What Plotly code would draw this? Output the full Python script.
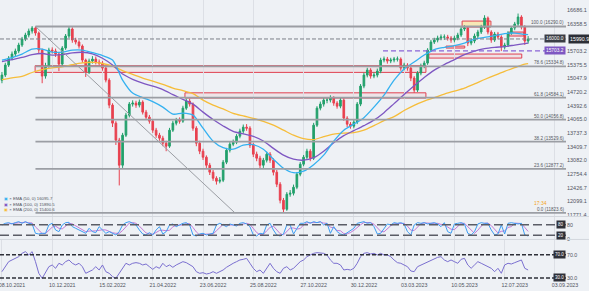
import plotly.graph_objects as go

# ---------------- data ----------------
dates = ["08.10.2021", "10.12.2021", "15.02.2022", "21.04.2022", "23.06.2022", "25.08.2022",
         "27.10.2022", "30.12.2022", "03.03.2023", "10.05.2023", "12.07.2023", "03.09.2023"]
date_idx = [3 + 15 * i for i in range(len(dates))]

opens = [15000, 15125, 15365, 15533, 15629, 15701, 15845, 15989, 16085, 16181,
         16253, 16133, 15725, 15101, 15341, 15725, 15701, 15629, 15389, 15773,
         16061, 16229, 15965, 15917, 15821, 15485, 15197, 15461, 15509, 15437,
         15413, 15293, 15005, 14405, 13973, 13565, 12965, 13685, 14165, 14429,
         14453, 14405, 14477, 14237, 14117, 14021, 13805, 13685, 13613, 13493,
         13421, 13805, 13973, 14045, 14021, 14333, 14501, 14429, 13853, 13493,
         13301, 13157, 12965, 12797, 12653, 12581, 12605, 13037, 13325, 13469,
         13517, 13661, 13781, 13877, 13853, 13445, 13229, 13133, 12965, 13085,
         13229, 13085, 12797, 12509, 12125, 11909, 12269, 12293, 12437, 12749,
         12989, 13157, 13301, 13133, 13925, 14333, 14429, 14525, 14525, 14573,
         14453, 14381, 14525, 14093, 13949, 13901, 13997, 14429, 14861, 15125,
         15245, 15101, 15125, 15221, 15485, 15509, 15461, 15485, 15509, 15509,
         15293, 15365, 15293, 15053, 14765, 15173, 15341, 15413, 15725, 15917,
         15965, 16013, 16037, 16037, 16013, 15965, 16013, 16085, 16229, 16253,
         15893, 15941, 16061, 16157, 16277, 16493, 16157, 15965, 16109, 16037,
         15797, 15845, 16133, 16253, 16349, 16517, 16277, 15941]
highs = [15200, 15420, 15580, 15690, 15760, 15900, 16040, 16140, 16240, 16300,
         16290, 16170, 15760, 15420, 15780, 15790, 15760, 15680, 15820, 16110,
         16290, 16270, 16020, 15960, 15860, 15520, 15520, 15580, 15570, 15500,
         15460, 15340, 15050, 14450, 14020, 13620, 13740, 14220, 14480, 14520,
         14510, 14540, 14520, 14290, 14170, 14070, 13860, 13740, 13670, 13550,
         13860, 14030, 14100, 14110, 14390, 14560, 14560, 14470, 13900, 13550,
         13360, 13200, 13020, 12850, 12700, 12680, 13090, 13380, 13520, 13580,
         13710, 13840, 13940, 13950, 13900, 13500, 13290, 13190, 13140, 13290,
         13280, 13130, 12850, 12560, 12180, 12320, 12370, 12500, 12800, 13040,
         13210, 13360, 13350, 13980, 14380, 14490, 14580, 14600, 14640, 14620,
         14500, 14590, 14570, 14140, 14000, 14060, 14480, 14910, 15180, 15300,
         15290, 15190, 15280, 15540, 15570, 15560, 15540, 15560, 15570, 15550,
         15420, 15410, 15340, 15100, 15220, 15400, 15470, 15770, 15970, 16020,
         16070, 16100, 16100, 16090, 16060, 16070, 16140, 16280, 16320, 16290,
         16000, 16120, 16210, 16330, 16560, 16530, 16200, 16160, 16160, 16080,
         15900, 16180, 16300, 16400, 16600, 16560, 16320, 16060]
lows = [14930, 15080, 15320, 15480, 15570, 15650, 15800, 15940, 16030, 16120,
        16070, 15650, 14930, 15040, 15300, 15640, 15560, 15220, 15350, 15730,
        16010, 15900, 15860, 15760, 15420, 15080, 15150, 15400, 15380, 15350,
        15230, 14950, 14330, 13880, 13450, 12480, 12900, 13640, 14110, 14370,
        14340, 14350, 14180, 14050, 13960, 13740, 13620, 13550, 13420, 13300,
        13380, 13760, 13920, 13960, 13980, 14290, 14370, 13790, 13420, 13230,
        13090, 12900, 12730, 12590, 12500, 12530, 12560, 12990, 13270, 13420,
        13470, 13610, 13720, 13790, 13380, 13160, 13060, 12890, 12900, 13030,
        13020, 12720, 12440, 12050, 11830, 11870, 12210, 12240, 12390, 12700,
        12940, 13100, 13060, 13090, 13880, 14280, 14370, 14450, 14470, 14390,
        14320, 14330, 14030, 13880, 13840, 13850, 13950, 14380, 14810, 15070,
        15040, 15050, 15070, 15170, 15430, 15400, 15410, 15430, 15450, 15230,
        15240, 15230, 14980, 14700, 14720, 15120, 15290, 15370, 15680, 15870,
        15910, 15960, 15970, 15950, 15900, 15910, 15960, 16040, 16180, 15820,
        15840, 15890, 16010, 16110, 16230, 16100, 15900, 15920, 15980, 15700,
        15740, 15800, 16090, 16200, 16300, 16220, 15850, 15880]
closes = [15125, 15365, 15533, 15629, 15701, 15845, 15989, 16085, 16181, 16253,
          16133, 15725, 15101, 15341, 15725, 15701, 15629, 15389, 15773, 16061,
          16229, 15965, 15917, 15821, 15485, 15197, 15461, 15509, 15437, 15413,
          15293, 15005, 14405, 13973, 13565, 12965, 13685, 14165, 14429, 14453,
          14405, 14477, 14237, 14117, 14021, 13805, 13685, 13613, 13493, 13421,
          13805, 13973, 14045, 14021, 14333, 14501, 14429, 13853, 13493, 13301,
          13157, 12965, 12797, 12653, 12581, 12605, 13037, 13325, 13469, 13517,
          13661, 13781, 13877, 13853, 13445, 13229, 13133, 12965, 13085, 13229,
          13085, 12797, 12509, 12125, 11909, 12269, 12293, 12437, 12749, 12989,
          13157, 13301, 13133, 13925, 14333, 14429, 14525, 14525, 14573, 14453,
          14381, 14525, 14093, 13949, 13901, 13997, 14429, 14861, 15125, 15245,
          15101, 15125, 15221, 15485, 15509, 15461, 15485, 15509, 15509, 15293,
          15365, 15293, 15053, 14765, 15173, 15341, 15413, 15725, 15917, 15965,
          16013, 16037, 16037, 16013, 15965, 16013, 16085, 16229, 16253, 15893,
          15941, 16061, 16157, 16277, 16493, 16157, 15965, 16109, 16037, 15797,
          15845, 16133, 16253, 16349, 16517, 16277, 15941, 15991]
bar_idx = list(range(len(closes)))

ema_idx = list(range(0, 157, 3)) + [157]
ema50 = [15485, 15545, 15629, 15749, 15749, 15677, 15677, 15725, 15725, 15665,
         15593, 15485, 15005, 14693, 14585, 14489, 14357, 14189, 14213, 14165,
         13853, 13541, 13385, 13349, 13445, 13457, 13349, 13109, 12893, 12785,
         12821, 12977, 13205, 13541, 13805, 13949, 14105, 14357, 14645, 15005,
         15269, 15437, 15605, 15737, 15790, 15831, 15893, 15989, 16030, 16071,
         16119, 16133, 16099, 16096]
ema100 = [15447, 15495, 15547, 15615, 15643, 15605, 15615, 15657, 15672, 15634,
          15528, 15365, 15149, 15024, 14933, 14861, 14777, 14657, 14544, 14429,
          14237, 14059, 13906, 13776, 13714, 13656, 13546, 13368, 13205, 13109,
          13085, 13145, 13301, 13505, 13673, 13793, 13913, 14045, 14225, 14441,
          14659, 14868, 15067, 15243, 15377, 15497, 15617, 15701, 15759, 15790,
          15809, 15845, 15881, 15891]
ema200 = [15015, 15058, 15096, 15187, 15255, 15298, 15322, 15375, 15418, 15432,
          15403, 15341, 15231, 15144, 15055, 14983, 14904, 14815, 14751, 14679,
          14525, 14405, 14314, 14208, 14146, 14088, 14016, 13925, 13805, 13685,
          13601, 13579, 13649, 13709, 13733, 13745, 13805, 13913, 14033, 14129,
          14275, 14400, 14501, 14583, 14669, 14741, 14813, 14912, 15019, 15120,
          15216, 15303, 15389, 15401]

stoch_k = [78.3, 87.8, 91.5, 84, 91.5, 97.2, 87.8, 97.2, 87.8, 84,
           31.2, 27.4, 31.2, 31.2, 78.3, 87.8, 50, 40.6, 78.3, 91.5,
           93.4, 68.9, 59.5, 50, 40.6, 31.2, 59.5, 40.6, 34.9, 68.9,
           50, 31.2, 40.6, 31.2, 21.8, 40.6, 78.3, 91.5, 97.2, 87.8,
           78.3, 50, 27.4, 21.8, 34.9, 21.8, 50, 68.9, 27.4, 40.6,
           78.3, 84, 68.9, 78.3, 87.8, 91.5, 78.3, 21.8, 16.1, 27.4,
           31.2, 21.8, 27.4, 31.2, 78.3, 87.8, 78.3, 68.9, 84, 78.3,
           72.7, 87.8, 91.5, 84, 68.9, 21.8, 16.1, 31.2, 27.4, 78.3,
           87.8, 50, 21.8, 16.1, 27.4, 78.3, 78.3, 27.4, 59.5, 87.8,
           87.8, 97.2, 87.8, 97.2, 91.5, 97.2, 78.3, 87.8, 31.2, 68.9,
           40.6, 27.4, 21.8, 34.9, 50, 59.5, 87.8, 91.5, 97.2, 87.8,
           91.5, 68.9, 27.4, 31.2, 59.5, 84, 78.3, 91.5, 87.8, 91.5,
           84, 40.6, 21.8, 78.3, 91.5, 87.8, 91.5, 84, 87.8, 91.5,
           84, 68.9, 91.5, 40.6, 31.2, 84, 87.8, 91.5, 84, 31.2,
           21.8, 40.6, 84, 91.5, 87.8, 87.8, 50, 21.8, 27.4, 78.3,
           27.4, 87.8, 91.5, 87.8, 84, 87.8, 21.8, 16.1]
stoch_d = [80, 83, 85.9, 87.8, 89, 90.9, 92.2, 94.1, 90.9, 89.7,
           67.7, 47.5, 29.9, 29.9, 46.9, 65.8, 72, 59.5, 56.3, 70.1,
           87.7, 84.6, 73.9, 59.5, 50, 40.6, 43.8, 43.8, 45, 48.1,
           51.3, 50, 40.6, 34.3, 31.2, 31.2, 46.9, 70.1, 89, 92.2,
           87.8, 72, 51.9, 33.1, 28, 26.2, 35.6, 46.9, 48.8, 45.6,
           48.8, 67.6, 77.1, 77.1, 78.3, 85.9, 85.9, 63.9, 38.7, 21.8,
           24.9, 26.8, 26.8, 26.8, 45.6, 65.8, 81.5, 78.3, 77.1, 77.1,
           78.3, 79.6, 84, 87.8, 81.5, 58.2, 35.6, 23, 24.9, 45.6,
           64.5, 72, 53.2, 29.3, 21.8, 40.6, 61.3, 61.3, 55.1, 58.2,
           78.4, 90.9, 90.9, 94.1, 92.2, 95.3, 89, 87.8, 65.8, 62.6,
           46.9, 45.6, 29.9, 28, 35.6, 48.1, 65.8, 79.6, 92.2, 92.2,
           92.2, 82.7, 62.6, 42.5, 39.4, 58.2, 73.9, 84.6, 85.9, 90.3,
           87.8, 72, 48.8, 46.9, 63.9, 85.9, 90.3, 87.8, 87.8, 87.8,
           87.8, 81.5, 81.5, 67, 54.4, 52, 67.7, 87.8, 87.8, 69,
           45.7, 31.2, 48.8, 72, 87.8, 89, 75.2, 53.2, 33.1, 42.5,
           44.4, 64.5, 68.9, 89, 87.8, 86.5, 64.5, 41.9]
rsi = [40.8, 49.4, 58.0, 60.9, 63.7, 66.6, 72.3, 75.2, 69.5, 75.2,
       58.0, 38.0, 29.4, 40.8, 49.4, 52.3, 46.6, 55.2, 52.3, 58.0,
       60.9, 55.2, 52.3, 55.2, 49.4, 38.0, 40.8, 43.7, 49.4, 43.7,
       52.3, 40.8, 38.0, 32.3, 29.4, 38.0, 46.6, 55.2, 52.3, 55.2,
       56.3, 55.2, 52.3, 54.0, 49.4, 44.8, 49.4, 46.6, 55.2, 49.4,
       52.3, 48.3, 52.3, 55.2, 58.0, 56.3, 52.3, 49.4, 40.8, 38.0,
       39.1, 36.8, 38.0, 40.8, 38.0, 40.8, 43.7, 48.3, 52.3, 55.2,
       58.0, 60.9, 62.0, 63.7, 55.2, 46.6, 40.8, 43.7, 38.0, 46.6,
       55.2, 46.6, 40.8, 38.0, 46.6, 49.4, 43.7, 46.6, 52.3, 58.0,
       60.9, 66.6, 69.5, 72.3, 73.5, 73.5, 72.3, 69.5, 60.9, 55.2,
       55.2, 52.3, 43.7, 44.8, 43.7, 46.6, 55.2, 66.6, 72.3, 73.5,
       71.2, 72.3, 69.5, 72.3, 69.5, 69.5, 66.6, 60.9, 56.3, 55.2,
       52.3, 49.4, 42.0, 40.8, 49.4, 52.3, 55.2, 58.0, 60.9, 63.7,
       65.4, 66.6, 60.9, 58.0, 60.9, 58.0, 55.2, 62.0, 63.7, 52.3,
       46.6, 52.3, 58.0, 55.2, 52.3, 49.4, 46.6, 40.8, 46.6, 38.0,
       52.3, 55.2, 54.0, 56.3, 58.0, 60.9, 46.6, 43.7]

price_ticks = [11771.4, 12099.1, 12426.7, 12754.4, 13082.0, 13409.7, 13737.3, 14065.0,
               14392.6, 14720.2, 15047.9, 15375.5, 15703.2, 16358.5, 16686.1]

fib_levels = ["0.0", "23.6", "38.2", "50.0", "61.8", "78.6", "100.0"]
fib_prices = [11823.6, 12877.2, 13529.6, 14056.8, 14584.1, 15334.8, 16290.0]
fib_start_idx = 10
fib_end_idx = 69.5

last_price = 15990.9
line_price = 16000.0
alert_price = 15703.2
alert_start_idx = 113.7

zone_x0 = [9.9, 54.6, 137.3, 132.5, 127.4, 151.3]
zone_x1 = [126.5, 126.5, 145.9, 138.1, 155.1, 155.7]
zone_lo = [15190, 14575, 16277, 15773, 15533, 16061]
zone_hi = [15350, 14700, 16420, 15821, 15629, 16157]
zone_fill = ["rgba(242,54,69,0.07)", "rgba(242,54,69,0.07)", "rgba(255,224,130,0.55)",
             "rgba(242,54,69,0.22)", "rgba(242,54,69,0.08)", "rgba(242,54,69,0.22)"]

ema_labels = ["EMA (50, 0) 16095.7", "EMA (100, 0) 15890.5", "EMA (200, 0) 15400.6"]

# ---------------- style ----------------
BG = "#eef1f5"
GRID = "#dcdfe5"
FONT = "Liberation Sans, Arial, sans-serif"
TXT = "#50535e"
X0, X1 = -0.58, 168.3
GREEN, RED = "#22a06b", "#e8414f"

fig = go.Figure()

fig.add_trace(go.Candlestick(
    x=bar_idx, open=opens, high=highs, low=lows, close=closes,
    increasing=dict(line=dict(color=GREEN, width=1), fillcolor=GREEN),
    decreasing=dict(line=dict(color=RED, width=1), fillcolor=RED),
    whiskerwidth=0, xaxis="x", yaxis="y", showlegend=False, hoverinfo="skip"))

for vals, col in [(ema200, "#f6bd3a"), (ema100, "#7e57c2"), (ema50, "#35b1f0")]:
    fig.add_trace(go.Scatter(x=ema_idx, y=vals, mode="lines",
                             line=dict(color=col, width=1.3, shape="spline", smoothing=0.8),
                             xaxis="x", yaxis="y", showlegend=False, hoverinfo="skip"))

fig.add_trace(go.Scatter(x=bar_idx, y=stoch_d, mode="lines",
                         line=dict(color="#c27ad6", width=1),
                         xaxis="x2", yaxis="y2", showlegend=False, hoverinfo="skip"))
fig.add_trace(go.Scatter(x=bar_idx, y=stoch_k, mode="lines",
                         line=dict(color="#3d9df3", width=1),
                         xaxis="x2", yaxis="y2", showlegend=False, hoverinfo="skip"))
fig.add_trace(go.Scatter(x=bar_idx, y=rsi, mode="lines",
                         line=dict(color="#7a6fd0", width=1),
                         xaxis="x3", yaxis="y3", showlegend=False, hoverinfo="skip"))

shapes = []
for a, b, lo, hi, fc in zip(zone_x0, zone_x1, zone_lo, zone_hi, zone_fill):
    shapes.append(dict(type="rect", xref="x", yref="y", x0=a, x1=b, y0=lo, y1=hi,
                       fillcolor=fc, line=dict(color="#e04050", width=1), layer="below"))
for p in fib_prices:
    shapes.append(dict(type="line", xref="x", yref="y", x0=fib_start_idx, x1=X1, y0=p, y1=p,
                       line=dict(color="#9b9ea4", width=1.8)))
shapes.append(dict(type="line", xref="x", yref="y", x0=fib_start_idx, x1=fib_end_idx,
                   y0=fib_prices[-1], y1=fib_prices[0], line=dict(color="#9b9ea4", width=1)))
shapes.append(dict(type="line", xref="x", yref="y", x0=X0, x1=X1, y0=last_price, y1=last_price,
                   line=dict(color="#7c7f88", width=1, dash="4px,2px")))
shapes.append(dict(type="line", xref="x", yref="y", x0=alert_start_idx, x1=X1, y0=alert_price,
                   y1=alert_price, line=dict(color="#8a64d6", width=1.2, dash="5px,3px")))
for v in (80, 20):
    shapes.append(dict(type="line", xref="x2", yref="y2", x0=X0, x1=X1, y0=v, y1=v,
                       line=dict(color="#5a5d66", width=1.6, dash="9px,4px")))
for v in (70, 30):
    shapes.append(dict(type="line", xref="x3", yref="y3", x0=X0, x1=X1, y0=v, y1=v,
                       line=dict(color="#2e3038", width=1.6, dash="4px,2px")))
for yy in (0.2295, 0.1478):
    shapes.append(dict(type="line", xref="paper", yref="paper", x0=0, x1=1.05, y0=yy, y1=yy,
                       line=dict(color="#d3d7dd", width=1)))

annotations = []
for lvl, p in zip(fib_levels, fib_prices):
    annotations.append(dict(xref="paper", yref="y", x=1, y=p, xanchor="right", yanchor="bottom",
                            text=f"{lvl} ({p:.1f})", showarrow=False, yshift=-1,
                            font=dict(size=4.6, color="#55585f", family=FONT)))
annotations.append(dict(xref="paper", yref="y", x=1, y=last_price, xanchor="right", yanchor="middle",
                        text=f"{line_price:.1f}", showarrow=False, bgcolor="#3a3d45",
                        font=dict(size=4.8, color="white", family=FONT), borderpad=1))
annotations.append(dict(xref="paper", yref="y", x=1, y=last_price, xanchor="left", yanchor="middle",
                        text=f"{last_price:.1f}", showarrow=False, bgcolor="#2b2e36", xshift=2,
                        font=dict(size=5.3, color="white", family=FONT), borderpad=1))
annotations.append(dict(xref="paper", yref="y", x=1, y=alert_price, xanchor="right", yanchor="middle",
                        text=f"{alert_price:.1f}", showarrow=False, bgcolor="#7e57c2",
                        font=dict(size=4.8, color="white", family=FONT), borderpad=1))
for v in (80, 20):
    annotations.append(dict(xref="paper", yref="y2", x=1, y=v, xanchor="right", yanchor="middle",
                            text=str(v), showarrow=False, bgcolor="#2e3038",
                            font=dict(size=4.5, color="white", family=FONT), borderpad=1))
for v in (70, 30):
    annotations.append(dict(xref="paper", yref="y3", x=1, y=v, xanchor="right", yanchor="middle",
                            text=f"{v:.1f}", showarrow=False, bgcolor="#2e3038",
                            font=dict(size=4.5, color="white", family=FONT), borderpad=1))
for i, (lab, col) in enumerate(zip(ema_labels, ["#35b1f0", "#7e57c2", "#f6bd3a"])):
    annotations.append(dict(xref="paper", yref="paper", x=0.004, y=0.292 - i * 0.0195,
                            xanchor="left", yanchor="middle", showarrow=False,
                            text=f"<span style='color:{col}'>▣</span> × {lab}",
                            font=dict(size=4.3, color="#50535e", family=FONT)))
annotations.append(dict(xref="paper", yref="paper", x=0.955, y=0.278, xanchor="center",
                        yanchor="middle", showarrow=False, text="17:34",
                        font=dict(size=5, color="#f5a623", family=FONT)))

axis_common = dict(range=[X0, X1], showgrid=False, zeroline=False, showline=False,
                   minor=dict(tickmode="linear", tick0=15, dtick=15, showgrid=True,
                              gridcolor=GRID, gridwidth=1, ticks=""))

fig.update_layout(
    width=589, height=291,
    margin=dict(l=0, r=23, t=0, b=10),
    paper_bgcolor=BG, plot_bgcolor=BG,
    font=dict(family=FONT, size=5.5, color=TXT),
    showlegend=False,
    xaxis=dict(domain=[0, 1], anchor="y", showticklabels=False,
               rangeslider=dict(visible=False), **axis_common),
    xaxis2=dict(domain=[0, 1], anchor="y2", matches="x", showticklabels=False, **axis_common),
    xaxis3=dict(domain=[0, 1], anchor="y3", matches="x", tickmode="array", tickvals=date_idx,
                ticktext=dates, ticks="", ticklabeloverflow="allow",
                tickfont=dict(size=5.3, color=TXT), **axis_common),
    yaxis=dict(domain=[0.2313, 1], range=[11747, 16925], side="right", tickmode="array",
               tickvals=price_ticks, ticktext=[f"{v:.1f}" for v in price_ticks],
               showgrid=False, zeroline=False, tickfont=dict(size=5.5, color=TXT)),
    yaxis2=dict(domain=[0.1495, 0.2278], range=[-1, 123.6], side="right", tickmode="array",
                tickvals=[0, 80], ticktext=["0", "80"], showgrid=False, zeroline=False,
                tickfont=dict(size=5.3, color=TXT)),
    yaxis3=dict(domain=[0, 0.1459], range=[24.8, 95.2], side="right", tickmode="array",
                tickvals=[30, 70], ticktext=["30.0", "70.0"], showgrid=False, zeroline=False,
                tickfont=dict(size=5.3, color=TXT)),
    shapes=shapes, annotations=annotations,
)

fig.write_html("out.html")
